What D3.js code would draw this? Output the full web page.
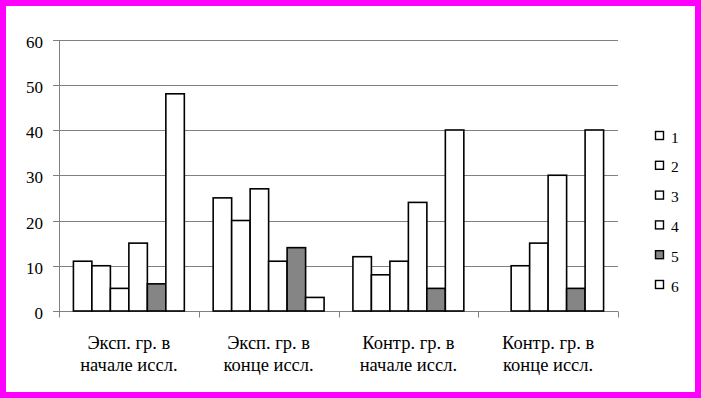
<!DOCTYPE html>
<html>
<head>
<meta charset="utf-8">
<script src="https://cdn.jsdelivr.net/npm/d3@7"></script>
<style>
  html, body { margin: 0; padding: 0; background: #fff; }
  svg { display: block; }
  svg text { font-family: "Liberation Serif", "Times New Roman", serif; fill: #000; }
</style>
</head>
<body>
<div id="chart"></div>
<script>
var categories = [["Эксп. гр. в", "начале иссл."], ["Эксп. гр. в", "конце иссл."],
                  ["Контр. гр. в", "начале иссл."], ["Контр. гр. в", "конце иссл."]];
var seriesNames = ["1", "2", "3", "4", "5", "6"];
var s1 = [11, 25, 12, 0];
var s2 = [10, 20, 8, 10];
var s3 = [5, 27, 11, 15];
var s4 = [15, 11, 24, 30];
var s5 = [6, 14, 5, 5];
var s6 = [48, 3, 40, 40];
var yTicks = [0, 10, 20, 30, 40, 50, 60];

var allSeries = [s1, s2, s3, s4, s5, s6];
var fills = ["#fff", "#fff", "#fff", "#fff", "#858585", "#fff"];

var w = 701, h = 398;
var pLeft = 59, pRight = 618, pTop = 39.5, pBottom = 311;

var svg = d3.select("#chart").append("svg")
    .attr("width", w)
    .attr("height", h);

// magenta frame
svg.append("rect")
    .attr("x", 3).attr("y", 3)
    .attr("width", w - 6).attr("height", h - 6)
    .attr("fill", "#fff")
    .attr("stroke", "#ff00ff")
    .attr("stroke-width", 6);

var y = d3.scaleLinear().domain([0, 60]).range([pBottom, pTop]);
var x0 = d3.scaleBand().domain(d3.range(categories.length)).range([pLeft, pRight]);
var x1 = d3.scaleBand().domain(d3.range(seriesNames.length))
    .range([0, x0.bandwidth()]).paddingOuter(0.78);

// gridlines
svg.append("g").selectAll("line")
    .data(yTicks)
    .enter().append("line")
    .attr("x1", pLeft - 6).attr("x2", pRight)
    .attr("y1", function (d) { return Math.round(y(d)) + 0.5; })
    .attr("y2", function (d) { return Math.round(y(d)) + 0.5; })
    .attr("stroke", "#808080");

svg.append("line")
    .attr("x1", pLeft + 0.5).attr("x2", pLeft + 0.5)
    .attr("y1", Math.round(y(60)) + 0.5).attr("y2", Math.round(y(0)) + 0.5)
    .attr("stroke", "#808080");

// category tick marks
svg.append("g").selectAll("line")
    .data(d3.range(categories.length + 1))
    .enter().append("line")
    .attr("x1", function (i) { return Math.round(pLeft + i * x0.step()) + 0.5; })
    .attr("x2", function (i) { return Math.round(pLeft + i * x0.step()) + 0.5; })
    .attr("y1", Math.round(y(0)) + 0.5).attr("y2", Math.round(y(0)) + 6.5)
    .attr("stroke", "#808080");

svg.append("g").selectAll("text")
    .data(yTicks)
    .enter().append("text")
    .attr("x", 43)
    .attr("y", function (d) { return y(d) + 8; })
    .attr("text-anchor", "end")
    .attr("font-size", 17)
    .text(function (d) { return d; });

// bars
allSeries.forEach(function (vals, si) {
    var pts = vals.map(function (v, ci) { return {ci: ci, v: v}; })
        .filter(function (d) { return d.v > 0; });
    svg.append("g").selectAll("rect")
        .data(pts)
        .enter().append("rect")
        .attr("x", function (d) { return x0(d.ci) + x1(si); })
        .attr("y", function (d) { return y(d.v); })
        .attr("width", x1.bandwidth())
        .attr("height", function (d) { return y(0) - y(d.v); })
        .attr("fill", fills[si])
        .attr("stroke", "#000")
        .attr("stroke-width", 1.6);
});

// category labels
var lab = svg.append("g").selectAll("text")
    .data(categories)
    .enter().append("text")
    .attr("text-anchor", "middle")
    .attr("font-size", 18.5)
    .attr("x", function (d, i) { return x0(i) + x0.bandwidth() / 2; })
    .attr("y", 349);
lab.append("tspan").text(function (d) { return d[0]; });
lab.append("tspan")
    .attr("x", function (d, i) { return x0(i) + x0.bandwidth() / 2; })
    .attr("dy", 22)
    .text(function (d) { return d[1]; });

// legend
var leg = svg.append("g").selectAll("g")
    .data(seriesNames)
    .enter().append("g")
    .attr("transform", function (d, i) { return "translate(655," + (131 + i * 29.8) + ")"; });
leg.append("rect")
    .attr("x", 0.5).attr("y", 0.5)
    .attr("width", 8).attr("height", 8)
    .attr("fill", function (d, i) { return fills[i]; })
    .attr("stroke", "#000")
    .attr("stroke-width", 1.4);
leg.append("text")
    .attr("x", 16).attr("y", 11.5)
    .attr("font-size", 15.5)
    .text(function (d) { return d; });
</script>
</body>
</html>
